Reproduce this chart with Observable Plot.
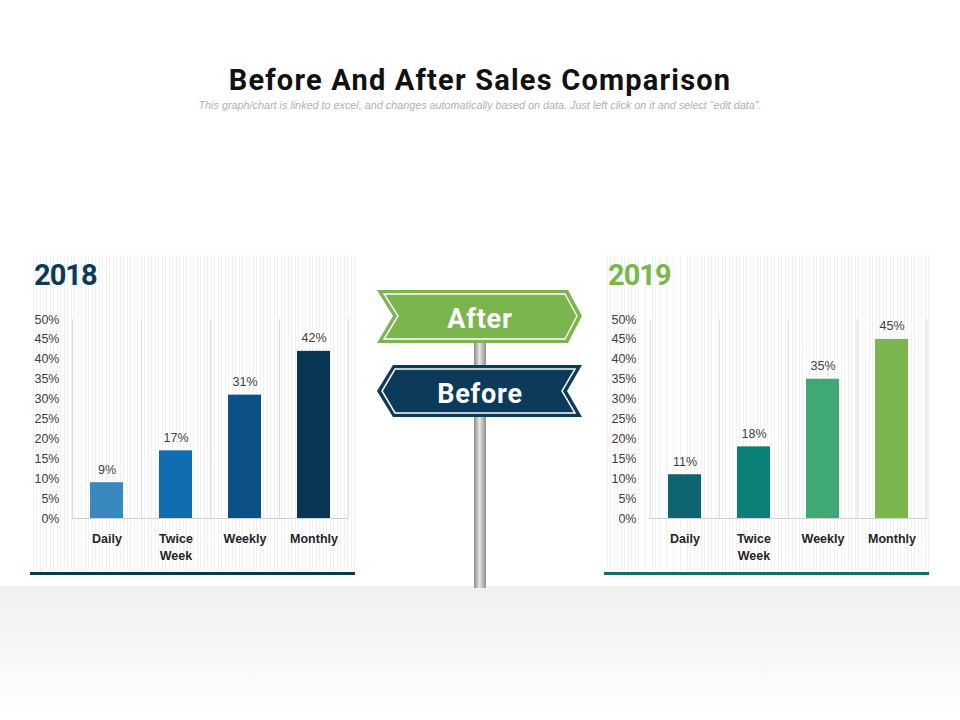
<!DOCTYPE html>
<html>
<head>
<meta charset="utf-8">
<script src="https://cdn.jsdelivr.net/npm/d3@7"></script>
<script src="https://cdn.jsdelivr.net/npm/@observablehq/plot@0.6"></script>
<style>
  html, body { margin: 0; padding: 0; background: #fff; }
  #page { position: relative; width: 960px; height: 720px; overflow: hidden; background: #fff; font-family: "Liberation Sans", Arial, sans-serif; }
  #title { position: absolute; left: 0; width: 960px; top: 63px; text-align: center; font-family: Roboto, sans-serif; font-weight: 700; font-size: 29px; color: #111; letter-spacing: 1.2px; }
  #subtitle { position: absolute; left: 0; width: 960px; top: 99px; text-align: center; font-size: 10.8px; font-style: italic; color: #b0b0b0; }
  #band { position: absolute; left: 0; top: 586px; width: 960px; height: 134px; background: linear-gradient(#f0f0f0, #f6f6f6 40%, #fff); }
  .panel { position: absolute; top: 255px; width: 325px; height: 320px;
    background: repeating-linear-gradient(90deg, #fff 0px, #fff 2.5px, #f1f1f1 2.5px, #f1f1f1 3.5px); }
  .panel .yr { position: absolute; left: 4px; top: 3px; font-family: Roboto, sans-serif; font-weight: 700; font-size: 29px; letter-spacing: -1px; }
  .panel .chart { position: absolute; left: 0; top: 45px; }
  .panel .bar { position: absolute; left: 0; bottom: 0; width: 325px; height: 3px; }
  #post { position: absolute; left: 0; top: 0; }
</style>
</head>
<body>
<div id="page">
  <div id="band"></div>
  <div id="title">Before And After Sales Comparison</div>
  <div id="subtitle">This graph/chart is linked to excel, and changes automatically based on data. Just left click on it and select “edit data”.</div>
  <div class="panel" id="p2018" style="left:30px"><div class="yr" style="color:#0b3a5a">2018</div><div class="chart"></div><div class="bar" style="background:#0b3550"></div></div>
  <div class="panel" id="p2019" style="left:604px"><div class="yr" style="color:#7ab54e">2019</div><div class="chart"></div><div class="bar" style="background:#186a6c"></div></div>
  <svg id="post" width="960" height="720">
    <defs>
      <linearGradient id="pole" x1="0" x2="1" y1="0" y2="0">
        <stop offset="0" stop-color="#8a8a8a"/>
        <stop offset="0.45" stop-color="#e6e6e6"/>
        <stop offset="1" stop-color="#8f8f8f"/>
      </linearGradient>
    </defs>
    <rect x="474" y="338" width="12" height="250" fill="url(#pole)"/>
    <!-- After sign (points right) -->
    <polygon points="377,290 568,290 582,316 568,343 377,343 393,316" fill="#7ab54e"/>
    <polygon points="384,294 565,294 577,316 565,339 384,339 398,316" fill="none" stroke="#fff" stroke-width="1.5"/>
    <text x="480" y="328" text-anchor="middle" font-family="Roboto, sans-serif" font-weight="700" font-size="27" letter-spacing="0.8" fill="#fff">After</text>
    <!-- Before sign (points left) -->
    <polygon points="393,365 582,365 567,391 582,417 393,417 377,391" fill="#0b3a5a"/>
    <polygon points="395,369 575,369 562,391 575,413 395,413 382,391" fill="none" stroke="#fff" stroke-width="1.5"/>
    <text x="480" y="403" text-anchor="middle" font-family="Roboto, sans-serif" font-weight="700" font-size="27" letter-spacing="0.8" fill="#fff">Before</text>
  </svg>
</div>
<script>
const categories = ["Daily", "Twice Week", "Weekly", "Monthly"];
const values2018 = [9, 17, 31, 42];
const values2019 = [11, 18, 35, 45];
const colors2018 = ["#3a88c0", "#0f6db0", "#0b5185", "#0a3656"];
const colors2019 = ["#0e6470", "#0b8078", "#40a874", "#7ab54e"];
const yTicks = [0, 5, 10, 15, 20, 25, 30, 35, 40, 45, 50];
const xLabels = {"Daily": "Daily", "Twice Week": "Twice\nWeek", "Weekly": "Weekly", "Monthly": "Monthly"};

function drawChart(values, colors, mL, mR) {
  const data = categories.map((c, i) => ({cat: c, v: values[i], color: colors[i]}));
  const W = 325;
  const bw = (W - mL - mR) / categories.length;
  return Plot.plot({
    width: W,
    height: 268,
    marginLeft: mL,
    marginRight: mR,
    marginTop: 19,
    marginBottom: 50,
    style: {background: "transparent", fontFamily: "'Liberation Sans', Arial, sans-serif", fontSize: "12px", color: "#404040"},
    x: {domain: categories, padding: 0, label: null, tickSize: 0, tickPadding: 12, tickFormat: d => xLabels[d]},
    y: {domain: [0, 50], ticks: yTicks, tickFormat: d => d + "%", label: null, tickSize: 0, tickPadding: 13},
    marks: [
      Plot.ruleX(categories, {x: d => d, y1: 0, y2: 50, dx: -bw / 2, stroke: "#dcdcdc"}),
      Plot.ruleX([categories[categories.length - 1]], {x: d => d, y1: 0, y2: 50, dx: bw / 2, stroke: "#dcdcdc"}),
      Plot.ruleY([0], {stroke: "#d0d0d0"}),
      Plot.barY(data, {x: "cat", y: "v", fill: "color", insetLeft: 18, insetRight: 18}),
      Plot.text(data, {x: "cat", y: "v", text: d => d.v + "%", dy: -13, fill: "#404040", fontSize: 12.5}),
      Plot.axisX({tickSize: 0, tickPadding: 12, fontWeight: "bold", fontSize: 12.5, fill: "#262626", tickFormat: d => xLabels[d], lineHeight: 1.4}),
      Plot.axisY({ticks: yTicks, tickSize: 0, tickPadding: 13, tickFormat: d => d + "%", fill: "#404040", fontSize: 12.5})
    ]
  });
}

document.querySelector("#p2018 .chart").appendChild(drawChart(values2018, colors2018, 42, 7));
document.querySelector("#p2019 .chart").appendChild(drawChart(values2019, colors2019, 45, 2));
</script>
</body>
</html>
